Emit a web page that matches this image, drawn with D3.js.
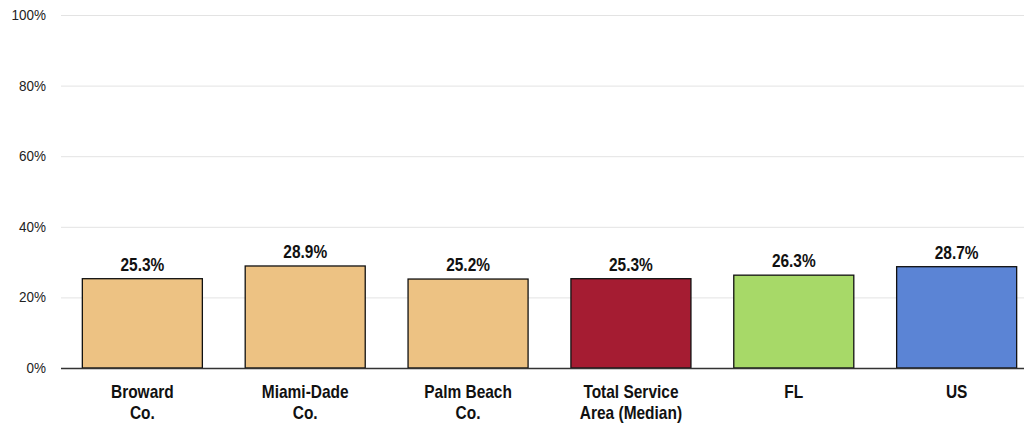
<!DOCTYPE html>
<html><head><meta charset="utf-8">
<script src="https://cdn.jsdelivr.net/npm/d3@7"></script>
<style>body{margin:0;background:#fff}svg{display:block}</style>
</head><body>
<svg id="c" width="1024" height="426"></svg>
<script>
const categories = [["Broward","Co."],["Miami-Dade","Co."],["Palm Beach","Co."],["Total Service","Area (Median)"],["FL"],["US"]];
const values = [25.3, 28.9, 25.2, 25.3, 26.3, 28.7];
const colors = ["#EDC283","#EDC283","#EDC283","#A51C32","#A7D968","#5B84D5"];
const yTicks = [0,20,40,60,80,100];

const svg = d3.select("#c");
const font = "'Liberation Sans',Arial,sans-serif";
const sx = 0.86;
const x = d3.scaleBand().domain(d3.range(values.length)).range([61,1038]).paddingInner(0.263).paddingOuter(0.131);
const y = d3.scaleLinear().domain([0,100]).range([368,15]);

svg.append("g").selectAll("line").data(yTicks.filter(d=>d>0)).join("line")
  .attr("x1",61).attr("x2",1024).attr("y1",d=>y(d)+0.5).attr("y2",d=>y(d)+0.5)
  .attr("stroke","#e3e3e3").attr("stroke-width",1);

svg.append("g").selectAll("text").data(yTicks).join("text")
  .attr("transform",d=>`translate(46,${y(d)+5}) scale(0.93,1)`).attr("text-anchor","end")
  .attr("font-family",font).attr("font-size",14.5).attr("fill","#222")
  .text(d=>d+"%");

svg.append("g").selectAll("rect").data(values).join("rect")
  .attr("x",(d,i)=>x(i)).attr("width",x.bandwidth())
  .attr("y",d=>y(d)).attr("height",d=>y(0)-y(d))
  .attr("fill",(d,i)=>colors[i]).attr("stroke","#111").attr("stroke-width",1.3);

svg.append("line").attr("x1",61).attr("x2",1024).attr("y1",368.5).attr("y2",368.5).attr("stroke","#333").attr("stroke-width",1.3);

svg.append("g").selectAll("text").data(values).join("text")
  .attr("transform",(d,i)=>`translate(${x(i)+x.bandwidth()/2},${y(d)-8}) scale(${sx},1)`).attr("text-anchor","middle")
  .attr("font-family",font).attr("font-weight","bold").attr("font-size",18).attr("fill","#111")
  .text(d=>d.toFixed(1)+"%");

const lab = svg.append("g").selectAll("text").data(categories).join("text")
  .attr("transform",(d,i)=>`translate(${x(i)+x.bandwidth()/2},398) scale(${sx},1)`).attr("text-anchor","middle")
  .attr("font-family",font).attr("font-weight","bold").attr("font-size",18).attr("fill","#111");
lab.selectAll("tspan").data(d=>d).join("tspan")
  .attr("x",0).attr("dy",(d,i)=>i===0?0:21).text(d=>d);
</script>
</body></html>
